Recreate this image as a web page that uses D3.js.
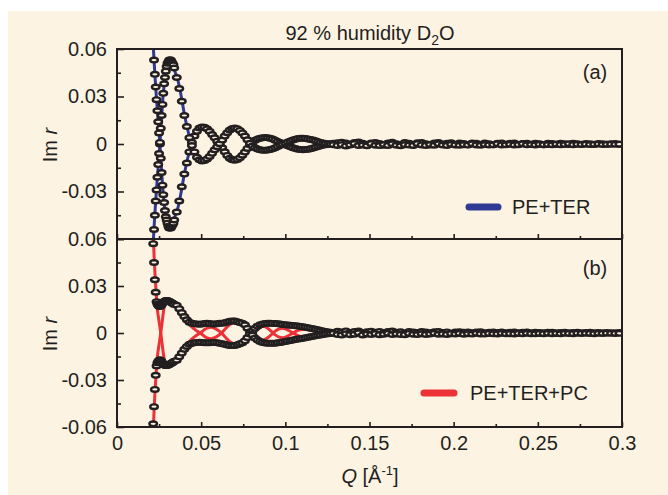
<!DOCTYPE html>
<html>
<head>
<meta charset="utf-8">
<script src="https://cdn.jsdelivr.net/npm/d3@7"></script>
<style>
html, body { margin: 0; padding: 0; background: #ffffff; }
svg { display: block; }
text { font-family: "Liberation Sans", Arial, Helvetica, sans-serif; fill: #231f20; }
</style>
</head>
<body>
<svg id="chart" width="668" height="495"></svg>
<script>
// ---- measured Q values of the data points (Å^-1) ----
const qData = [
  0.0205, 0.021, 0.0215, 0.022, 0.0225, 0.023, 0.0235, 0.024, 0.0245, 0.025,
  0.0255, 0.026, 0.0265, 0.027, 0.0275, 0.028, 0.0285, 0.029, 0.0295, 0.030,
  0.0305, 0.031, 0.0315, 0.032, 0.0325, 0.033, 0.0335, 0.034,
  0.0355, 0.037, 0.0385, 0.040, 0.0415, 0.043, 0.0445, 0.046, 0.0475, 0.049,
  0.0505, 0.052, 0.0535, 0.055, 0.0565, 0.058, 0.0595, 0.061, 0.0625, 0.064,
  0.0655, 0.067, 0.0685, 0.070, 0.0715, 0.073, 0.0745, 0.076, 0.0775, 0.079,
  0.0805, 0.082, 0.0835, 0.085, 0.0865, 0.088, 0.0895, 0.091, 0.0925, 0.094,
  0.0955, 0.097, 0.0985, 0.100, 0.1015, 0.103, 0.1045, 0.106, 0.1075, 0.109,
  0.1105, 0.112, 0.1135, 0.115, 0.1165, 0.118, 0.1195, 0.121, 0.1225, 0.124,
  0.1255, 0.127, 0.1285,
  0.131, 0.1335, 0.136, 0.1385, 0.141, 0.1435, 0.146, 0.1485, 0.151, 0.1535,
  0.156, 0.1585, 0.161, 0.1635, 0.166, 0.1685, 0.171, 0.1735, 0.176, 0.1785,
  0.181, 0.1835, 0.186, 0.1885, 0.191, 0.1935, 0.196, 0.1985, 0.201, 0.2035,
  0.206, 0.2085, 0.211, 0.2135, 0.216, 0.2185, 0.221, 0.2235, 0.226, 0.2285,
  0.231, 0.2335, 0.236, 0.2385, 0.241, 0.2435, 0.246, 0.2485, 0.251, 0.2535,
  0.256, 0.2585, 0.261, 0.2635, 0.266, 0.2685, 0.271, 0.2735, 0.276, 0.2785,
  0.281, 0.2835, 0.286, 0.2885, 0.291, 0.2935, 0.296, 0.2985
];

// ---- Im r, PE+TER, two branches ----
const teData1 = [
  0.088, 0.073, 0.063, 0.053, 0.044, 0.036, 0.028, 0.021, 0.014, 0.007,
  0, -0.009, -0.018, -0.026, -0.032, -0.037, -0.042, -0.046, -0.048, -0.050,
  -0.052, -0.053, -0.053, -0.053, -0.052, -0.051, -0.050, -0.048,
  -0.043, -0.036, -0.027, -0.019, -0.012, -0.005, 0.001, 0.005, 0.008, 0.0101,
  0.0108, 0.0106, 0.0096, 0.0080, 0.0060, 0.0039, 0.0018, 0.0001, -0.0024, -0.0049,
  -0.0072, -0.0090, -0.0099, -0.0102, -0.0098, -0.0087, -0.0071, -0.0051, -0.0028, -0.0005,
  0.0012, 0.0023, 0.0031, 0.0036, 0.0039, 0.0041, 0.0039, 0.0036, 0.0031, 0.0024,
  0.0016, 0.0009, 0.0003, -0.0004, -0.0011, -0.0018, -0.0024, -0.0029, -0.0033, -0.0035,
  -0.0036, -0.0035, -0.0033, -0.0030, -0.0026, -0.0021, -0.0016, -0.0011, -0.0007, -0.0004,
  -0.0001, 0.0002, 0.0004,
  0.0008, 0.0011, 0.0006, -0.0003, 0.0009, 0.0012, 0.0004, -0.0006, 0.0007, 0.0010,
  0.0003, -0.0008, 0.0006, 0.0011, 0.0002, -0.0005, 0.0009, 0.0004, -0.0007, 0.0008,
  0.0010, 0.0001, -0.0006, 0.0007, 0.0009, -0.0002, 0.0005, 0.0008, -0.0004, 0.0006,
  0.0003, -0.0005, 0.0007, 0.0004, -0.0003, 0.0006, 0.0002, -0.0004, 0.0005, 0.0007,
  -0.0002, 0.0004, 0.0006, -0.0003, 0.0003, 0.0005, -0.0001, 0.0004, 0.0002, -0.0004,
  0.0005, 0.0003, -0.0002, 0.0004, 0.0001, -0.0003, 0.0004, 0.0002, -0.0002, 0.0003,
  0.0001, -0.0003, 0.0003, 0.0002, -0.0001, 0.0002, 0.0003, -0.0002
];
const teData2 = [
  -0.090, -0.074, -0.064, -0.054, -0.045, -0.036, -0.029, -0.021, -0.013, -0.006,
  0.001, 0.010, 0.018, 0.025, 0.032, 0.038, 0.042, 0.046, 0.049, 0.051,
  0.052, 0.053, 0.053, 0.053, 0.052, 0.051, 0.050, 0.048,
  0.042, 0.035, 0.027, 0.018, 0.011, 0.004, -0.001, -0.005, -0.0083, -0.0100,
  -0.0107, -0.0104, -0.0094, -0.0079, -0.0059, -0.0037, -0.0017, 0.0002, 0.0025, 0.0050,
  0.0071, 0.0088, 0.0098, 0.0101, 0.0097, 0.0086, 0.0070, 0.0050, 0.0027, 0.0004,
  -0.0013, -0.0024, -0.0032, -0.0037, -0.0040, -0.0040, -0.0038, -0.0035, -0.0030, -0.0023,
  -0.0015, -0.0008, -0.0002, 0.0005, 0.0012, 0.0019, 0.0025, 0.0030, 0.0034, 0.0036,
  0.0036, 0.0035, 0.0032, 0.0029, 0.0025, 0.0020, 0.0015, 0.0010, 0.0006, 0.0003,
  0, -0.0002, -0.0004,
  -0.0009, -0.0004, -0.0012, -0.0006, 0.0003, -0.0010, -0.0007, -0.0011, 0.0002, -0.0008,
  -0.0010, -0.0003, -0.0009, 0.0001, -0.0008, -0.0011, -0.0004, -0.0007, -0.0009, 0.0002,
  -0.0006, -0.0009, -0.0003, -0.0008, 0.0001, -0.0007, -0.0009, -0.0002, -0.0006, -0.0008,
  -0.0004, -0.0007, 0.0001, -0.0006, -0.0008, -0.0003, -0.0006, -0.0005, 0.0001, -0.0006,
  -0.0005, -0.0002, -0.0006, -0.0004, 0.0001, -0.0005, -0.0003, -0.0006, -0.0002, -0.0004,
  -0.0003, -0.0005, -0.0001, -0.0004, -0.0003, 0.0001, -0.0004, -0.0002, -0.0003, -0.0001,
  -0.0003, -0.0002, 0, -0.0003, -0.0002, -0.0001, -0.0002, -0.0001
];

// ---- Im r, PE+TER+PC, two branches ----
const pcData1 = [
  0.095, 0.071, 0.057, 0.045, 0.034, 0.026, 0.020, 0.0185, 0.0176, 0.0171,
  0.0169, 0.0172, 0.0180, 0.0189, 0.0196, 0.0201, 0.0205, 0.0207, 0.0208, 0.0207,
  0.0205, 0.0202, 0.0199, 0.0196, 0.0193, 0.0190, 0.0186, 0.0182,
  0.0177, 0.0155, 0.0130, 0.0105, 0.0084, 0.0069, 0.0062, 0.0059, 0.0057, 0.0056,
  0.0057, 0.0060, 0.0062, 0.0061, 0.0058, 0.0057, 0.0059, 0.0062, 0.0063, 0.0066,
  0.0071, 0.0075, 0.0077, 0.0076, 0.0072, 0.0067, 0.0063, 0.0052, 0.0030, 0.0008,
  0.0012, 0.0030, 0.0043, 0.0052, 0.0058, 0.0061, 0.0062, 0.0062, 0.0061, 0.0060,
  0.0059, 0.0057, 0.0055, 0.0053, 0.0051, 0.0050, 0.0048, 0.0046, 0.0044, 0.0042,
  0.0040, 0.0037, 0.0034, 0.0031, 0.0027, 0.0024, 0.0020, 0.0016, 0.0012, 0.0009,
  0.0006, 0.0004, 0.0003,
  0.0011, 0.0006, 0.0013, 0.0002, 0.0009, 0.0012, -0.0003, 0.0008, 0.0011, 0.0005,
  0.0010, 0.0001, 0.0009, 0.0012, 0.0004, 0.0008, -0.0002, 0.0010, 0.0007, 0.0003,
  0.0009, 0.0006, 0.0001, 0.0008, 0.0010, 0.0003, 0.0007, -0.0001, 0.0006, 0.0008,
  0.0004, 0.0007, 0.0002, 0.0006, 0.0008, 0.0001, 0.0005, 0.0007, 0.0003, 0.0006,
  0.0002, 0.0005, 0.0006, 0.0001, 0.0004, 0.0006, 0.0002, 0.0005, 0.0003, 0.0001,
  0.0004, 0.0005, 0.0002, 0.0003, 0.0005, 0.0001, 0.0003, 0.0004, 0.0002, 0.0003,
  0.0004, 0.0001, 0.0003, 0.0002, 0.0003, 0.0001, 0.0002, 0.0003
];
const pcData2 = [
  -0.098, -0.072, -0.058, -0.047, -0.036, -0.027, -0.021, -0.0190, -0.0180, -0.0174,
  -0.0171, -0.0174, -0.0182, -0.0191, -0.0198, -0.0203, -0.0206, -0.0208, -0.0208, -0.0206,
  -0.0204, -0.0201, -0.0198, -0.0195, -0.0192, -0.0188, -0.0184, -0.0180,
  -0.0174, -0.0152, -0.0128, -0.0104, -0.0086, -0.0072, -0.0065, -0.0062, -0.0060, -0.0059,
  -0.0060, -0.0062, -0.0063, -0.0062, -0.0060, -0.0060, -0.0062, -0.0065, -0.0068, -0.0072,
  -0.0076, -0.0079, -0.0080, -0.0079, -0.0075, -0.0069, -0.0062, -0.0050, -0.0029, -0.0007,
  -0.0013, -0.0032, -0.0045, -0.0054, -0.0060, -0.0064, -0.0065, -0.0066, -0.0066, -0.0065,
  -0.0063, -0.0060, -0.0057, -0.0054, -0.0051, -0.0048, -0.0045, -0.0042, -0.0039, -0.0036,
  -0.0033, -0.0030, -0.0027, -0.0024, -0.0021, -0.0018, -0.0015, -0.0012, -0.0009, -0.0007,
  -0.0005, -0.0003, -0.0002,
  -0.0010, -0.0013, -0.0005, -0.0011, -0.0008, 0.0001, -0.0012, -0.0007, -0.0010, -0.0004,
  -0.0011, -0.0008, -0.0002, -0.0010, -0.0006, -0.0009, -0.0011, -0.0003, -0.0008, -0.0010,
  -0.0005, -0.0009, -0.0007, -0.0002, -0.0008, -0.0006, -0.0009, -0.0004, -0.0007, -0.0003,
  -0.0008, -0.0005, -0.0007, -0.0002, -0.0006, -0.0007, -0.0003, -0.0005, -0.0006, -0.0002,
  -0.0005, -0.0004, -0.0006, -0.0003, -0.0005, -0.0002, -0.0004, -0.0005, -0.0003, -0.0004,
  -0.0002, -0.0004, -0.0003, -0.0005, -0.0002, -0.0003, -0.0004, -0.0001, -0.0003, -0.0002,
  -0.0003, -0.0004, -0.0002, -0.0003, -0.0001, -0.0002, -0.0003, -0.0002
];

// ---- model curves (fits) ----
const qFit = [
  0.0205, 0.021, 0.0215, 0.022, 0.0225, 0.023, 0.0235, 0.024, 0.0245, 0.025,
  0.0255, 0.026, 0.0265, 0.027, 0.0275, 0.028, 0.0285, 0.029, 0.0295, 0.030,
  0.0305, 0.031, 0.0315, 0.032, 0.0325, 0.033, 0.0335, 0.034,
  0.036, 0.038, 0.040, 0.042, 0.044, 0.046, 0.048, 0.050, 0.052, 0.054,
  0.056, 0.058, 0.060, 0.062, 0.064, 0.066, 0.068, 0.070, 0.072, 0.074,
  0.076, 0.078, 0.080, 0.082, 0.084, 0.086, 0.088, 0.090, 0.092, 0.094,
  0.096, 0.098, 0.100, 0.102, 0.104, 0.106, 0.108, 0.110, 0.112, 0.114,
  0.116, 0.118, 0.120, 0.122, 0.124, 0.126, 0.128, 0.130,
  0.15, 0.18, 0.21, 0.24, 0.27, 0.30
];
const teFit1 = [
  0.086, 0.074, 0.063, 0.053, 0.044, 0.036, 0.028, 0.021, 0.014, 0.007,
  0, -0.009, -0.017, -0.025, -0.032, -0.037, -0.042, -0.045, -0.048, -0.050,
  -0.052, -0.053, -0.053, -0.053, -0.052, -0.051, -0.049, -0.047,
  -0.041, -0.031, -0.019, -0.009, -0.001, 0.005, 0.009, 0.0106, 0.0105, 0.0091,
  0.0067, 0.0039, 0.0012, -0.0014, -0.0049, -0.0078, -0.0096, -0.0101, -0.0096, -0.0076,
  -0.0051, -0.0020, 0.0008, 0.0023, 0.0033, 0.0038, 0.0040, 0.0038, 0.0033, 0.0024,
  0.0014, 0.0005, -0.0004, -0.0013, -0.0022, -0.0029, -0.0034, -0.0036, -0.0035, -0.0032,
  -0.0027, -0.0021, -0.0014, -0.0008, -0.0004, -0.0001, 0.0002, 0.0003,
  -0.0002, 0.0001, -0.0001, 0.0001, 0, 0
];
const teFit2 = [
  -0.086, -0.074, -0.063, -0.053, -0.044, -0.036, -0.028, -0.021, -0.014, -0.007,
  0, 0.009, 0.017, 0.025, 0.032, 0.037, 0.042, 0.045, 0.048, 0.050,
  0.052, 0.053, 0.053, 0.053, 0.052, 0.051, 0.049, 0.047,
  0.041, 0.031, 0.019, 0.009, 0.001, -0.005, -0.009, -0.0106, -0.0105, -0.0091,
  -0.0067, -0.0039, -0.0012, 0.0014, 0.0049, 0.0078, 0.0096, 0.0101, 0.0096, 0.0076,
  0.0051, 0.0020, -0.0008, -0.0023, -0.0033, -0.0038, -0.0040, -0.0038, -0.0033, -0.0024,
  -0.0014, -0.0005, 0.0004, 0.0013, 0.0022, 0.0029, 0.0034, 0.0036, 0.0035, 0.0032,
  0.0027, 0.0021, 0.0014, 0.0008, 0.0004, 0.0001, -0.0002, -0.0003,
  0.0002, -0.0001, 0.0001, -0.0001, 0, 0
];
const pcFit1 = [
  0.100, 0.080, 0.064, 0.050, 0.039, 0.030, 0.022, 0.0150, 0.0108, 0.0072,
  0.0036, 0, -0.0042, -0.0085, -0.0128, -0.0165, -0.0192, -0.0203, -0.0206, -0.0205,
  -0.0203, -0.0200, -0.0197, -0.0194, -0.0190, -0.0186, -0.0182, -0.0177,
  -0.0166, -0.0132, -0.0098, -0.0068, -0.0044, -0.0025, -0.0009, 0.0005, 0.0022, 0.0033,
  0.0036, 0.0030, 0.0017, 0.0001, -0.0022, -0.0045, -0.0061, -0.0068, -0.0066, -0.0057,
  -0.0042, -0.0022, 0, 0.0022, 0.0038, 0.0045, 0.0040, 0.0026, 0.0007, -0.0012,
  -0.0025, -0.0030, -0.0026, -0.0016, -0.0004, 0.0009, 0.0018, 0.0023, 0.0024, 0.0021,
  0.0015, 0.0009, 0.0003, -0.0002, -0.0004, -0.0004, -0.0003, -0.0002,
  0.0002, -0.0001, 0.0001, 0, 0, 0
];
const pcFit2 = [
  -0.100, -0.080, -0.064, -0.050, -0.039, -0.030, -0.022, -0.0150, -0.0108, -0.0072,
  -0.0036, 0, 0.0042, 0.0085, 0.0128, 0.0165, 0.0192, 0.0203, 0.0206, 0.0205,
  0.0203, 0.0200, 0.0197, 0.0194, 0.0190, 0.0186, 0.0182, 0.0177,
  0.0166, 0.0132, 0.0098, 0.0068, 0.0044, 0.0025, 0.0009, -0.0005, -0.0022, -0.0033,
  -0.0036, -0.0030, -0.0017, -0.0001, 0.0022, 0.0045, 0.0061, 0.0068, 0.0066, 0.0057,
  0.0042, 0.0022, 0, -0.0022, -0.0038, -0.0045, -0.0040, -0.0026, -0.0007, 0.0012,
  0.0025, 0.0030, 0.0026, 0.0016, 0.0004, -0.0009, -0.0018, -0.0023, -0.0024, -0.0021,
  -0.0015, -0.0009, -0.0003, 0.0002, 0.0004, 0.0004, 0.0003, 0.0002,
  -0.0002, 0.0001, -0.0001, 0, 0, 0
];

// ---- axes ----
const xTickValues = [0, 0.05, 0.1, 0.15, 0.2, 0.25, 0.3];
const xTickLabels = ["0", "0.05", "0.1", "0.15", "0.2", "0.25", "0.3"];
const xMinorTicks = [0.025, 0.075, 0.125, 0.175, 0.225, 0.275];
const yTickValues = [0.06, 0.03, 0, -0.03, -0.06];
const yTickLabels = ["0.06", "0.03", "0", "-0.03", "-0.06"];
const yMinorTicks = [0.045, 0.015, -0.015, -0.045];

const seriesNames = ["PE+TER", "PE+TER+PC"];
const panelTags = ["(a)", "(b)"];

// ---- drawing ----
const W = 668, H = 495;
const ink = "#231f20";
const paper = "#fdf3e3";
const fitColors = ["#2e3a94", "#ec3237"];

const svg = d3.select("#chart");
svg.append("rect").attr("x", 8).attr("y", 11)
  .attr("width", W - 8).attr("height", H - 11).attr("fill", paper);

const plotL = 117, plotR = 622;
const x = d3.scaleLinear().domain([0, 0.3]).range([plotL, plotR]);

const panels = [
  { top: 49, bottom: 239, d1: teData1, d2: teData2, f1: teFit1, f2: teFit2,
    labels: [true, true, true, true, false] },
  { top: 239, bottom: 427, d1: pcData1, d2: pcData2, f1: pcFit1, f2: pcFit2,
    labels: [true, true, true, true, true] }
];

panels.forEach((p, i) => {
  const y = d3.scaleLinear().domain([-0.06, 0.06]).range([p.bottom, p.top]);
  const clipId = "clip" + i;
  svg.append("clipPath").attr("id", clipId).append("rect")
    .attr("x", plotL).attr("y", p.top)
    .attr("width", plotR - plotL).attr("height", p.bottom - p.top);

  const g = svg.append("g").attr("clip-path", `url(#${clipId})`);
  const line = d3.line().x(d => x(d[0])).y(d => y(d[1]))
    .curve(d3.curveCatmullRom.alpha(0.5));

  [p.f1, p.f2].forEach(f => {
    g.append("path").datum(d3.zip(qFit, f))
      .attr("d", line).attr("fill", "none")
      .attr("stroke", fitColors[i]).attr("stroke-width", 3)
      .attr("stroke-linejoin", "round");
  });

  [p.d1, p.d2].forEach(vals => {
    g.append("g").selectAll("ellipse")
      .data(d3.zip(qData, vals))
      .join("ellipse")
      .attr("cx", d => x(d[0])).attr("cy", d => y(d[1]))
      .attr("rx", 3.8).attr("ry", 2.3)
      .attr("fill", paper).attr("stroke", ink).attr("stroke-width", 2.4);
  });

  // y axis: inward ticks, labels on the left
  const yAx = svg.append("g").attr("transform", `translate(${plotL},0)`)
    .call(d3.axisLeft(y).tickValues(yTickValues).tickSize(-7).tickPadding(10)
      .tickFormat((d, j) => p.labels[j] ? yTickLabels[j] : ""));
  const yMin = svg.append("g").attr("transform", `translate(${plotL},0)`)
    .call(d3.axisLeft(y).tickValues(yMinorTicks).tickSize(-4).tickFormat(""));

  // x axis ticks on the bottom edge of each panel
  const xAx = svg.append("g").attr("transform", `translate(0,${p.bottom})`)
    .call(d3.axisBottom(x).tickValues(xTickValues).tickSize(-5).tickPadding(9)
      .tickFormat((d, j) => i === 1 ? xTickLabels[j] : ""));
  const xMin = svg.append("g").attr("transform", `translate(0,${p.bottom})`)
    .call(d3.axisBottom(x).tickValues(xMinorTicks).tickSize(-3).tickFormat(""));

  [yAx, yMin, xAx, xMin].forEach(a => {
    a.select(".domain").remove();
    a.attr("font-size", 20).attr("font-family", null);
    a.selectAll("line").attr("stroke", ink).attr("stroke-width", 1.6);
    a.selectAll("text").attr("fill", ink);
  });

  // frame
  svg.append("rect").attr("x", plotL).attr("y", p.top)
    .attr("width", plotR - plotL).attr("height", p.bottom - p.top)
    .attr("fill", "none").attr("stroke", ink).attr("stroke-width", 2);

  // y title "Im r"
  const yc = y(0);
  const t = svg.append("text")
    .attr("transform", `translate(57,${yc + 1}) rotate(-90)`)
    .attr("text-anchor", "middle").attr("font-size", 20);
  t.append("tspan").text("Im ");
  t.append("tspan").attr("font-style", "italic").text("r");

  // panel tag
  svg.append("text").attr("x", 595).attr("y", i === 0 ? 79 : 275)
    .attr("text-anchor", "middle").attr("font-size", 20).text(panelTags[i]);
});

// legends
const legends = [
  { x1: 469, x2: 498, y: 207, tx: 512 },
  { x1: 424, x2: 454, y: 393, tx: 470 }
];
legends.forEach((l, i) => {
  svg.append("line").attr("x1", l.x1).attr("x2", l.x2)
    .attr("y1", l.y).attr("y2", l.y)
    .attr("stroke", fitColors[i]).attr("stroke-width", 7)
    .attr("stroke-linecap", "round");
  svg.append("text").attr("x", l.tx).attr("y", l.y + 7)
    .attr("font-size", 20).text(seriesNames[i]);
});

// title
const title = svg.append("text").attr("x", 370).attr("y", 40)
  .attr("text-anchor", "middle").attr("font-size", 20);
title.append("tspan").text("92 % humidity D");
title.append("tspan").attr("font-size", 14).attr("dy", 5).text("2");
title.append("tspan").attr("dy", -5).text("O");

// x title
const xt = svg.append("text").attr("x", 370).attr("y", 483)
  .attr("text-anchor", "middle").attr("font-size", 20);
xt.append("tspan").attr("font-style", "italic").text("Q");
xt.append("tspan").text(" [Å");
xt.append("tspan").attr("font-size", 13).attr("dy", -8).text("-1");
xt.append("tspan").attr("dy", 8).text("]");
</script>
</body>
</html>
